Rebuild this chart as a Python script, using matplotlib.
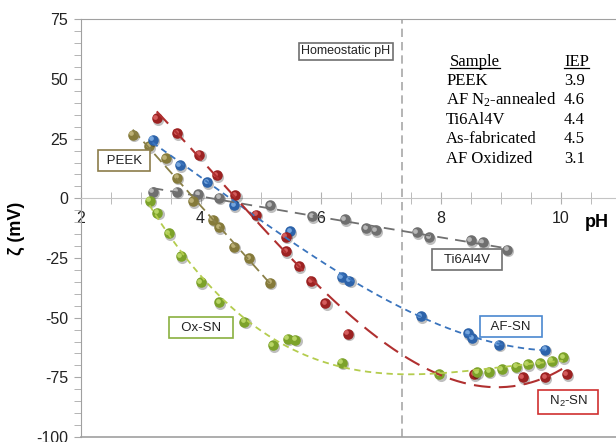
import numpy as np
import matplotlib.pyplot as plt
from matplotlib.ticker import MultipleLocator
from matplotlib.transforms import offset_copy
from matplotlib.lines import Line2D

plt.rcParams['font.family'] = ['Liberation Sans', 'DejaVu Sans']
plt.rcParams['axes.unicode_minus'] = False

# ----- values (pH, zeta potential in mV) -----
peek_ph = [2.87, 3.14, 3.42, 3.61, 3.87, 4.20, 4.31, 4.56, 4.81, 5.16]
peek_z = [26.6, 21.8, 16.8, 8.7, -1.3, -8.9, -12.2, -20.3, -25.0, -35.3]

ti_ph = [3.20, 3.60, 3.96, 4.31, 5.16, 5.86, 6.40, 6.76, 6.92, 7.60, 7.81, 8.50, 8.70, 9.11]
ti_z = [2.8, 2.8, 1.6, 0.2, -2.8, -7.6, -8.8, -12.6, -13.4, -14.3, -16.4, -17.5, -18.3, -21.5]

afsn_ph = [3.20, 3.65, 4.11, 4.56, 5.49, 6.35, 6.48, 7.67, 8.46, 8.53, 8.97, 9.74]
afsn_z = [24.6, 13.9, 6.7, -2.8, -13.9, -33.1, -34.5, -49.5, -56.6, -58.5, -61.3, -63.5]

n2sn_ph = [3.27, 3.61, 3.98, 4.27, 4.58, 4.93, 5.42, 5.43, 5.64, 5.84, 6.08, 6.45,
           8.56, 9.37, 9.74, 10.10]
n2sn_z = [33.5, 27.3, 18.2, 9.8, 1.3, -6.9, -16.1, -22.2, -28.4, -34.7, -44.0, -56.8,
          -73.6, -75.0, -75.0, -73.8]

oxsn_ph = [3.15, 3.28, 3.47, 3.67, 4.00, 4.31, 4.73, 5.20, 5.45, 5.58, 6.35, 7.98,
           8.61, 8.81, 9.02, 9.26, 9.45, 9.65, 9.85, 10.04]
oxsn_z = [-1.0, -6.0, -14.6, -24.2, -35.2, -43.4, -51.7, -61.6, -58.8, -59.3, -68.9, -73.6,
          -72.9, -72.6, -71.5, -70.5, -69.4, -69.1, -68.0, -66.6]

homeostatic_ph = 7.35

iep_samples = ['PEEK', 'AF N$\\mathregular{_2}$-annealed', 'Ti6Al4V', 'As-fabricated', 'AF Oxidized']
iep_values = ['3.9', '4.6', '4.4', '4.5', '3.1']

# ----- figure -----
fig = plt.figure(figsize=(6.16, 4.42), dpi=100)
ax = fig.add_axes([80.5/616, 5/442, 540/616, 417.7/442])
ax.set_xlim(2, 11)
ax.set_ylim(-100, 75)


def balls(x, y, base, light, z=3):
    shadow = offset_copy(ax.transData, fig, x=1.2, y=-1.6, units='dots')
    hi = offset_copy(ax.transData, fig, x=-1.4, y=1.4, units='dots')
    ax.plot(x, y, 'o', ms=8, mfc='#00000040', mec='none', ls='none', transform=shadow, zorder=z)
    ax.plot(x, y, 'o', ms=7.6, mfc=base, mec='none', ls='none', zorder=z)
    ax.plot(x, y, 'o', ms=3.4, mfc=light, mec='none', ls='none', alpha=0.75, transform=hi, zorder=z)


def trend(x, y, deg, color, dashes, lw=1.3):
    c = np.polyfit(x, y, deg)
    xs = np.linspace(min(x), max(x), 200)
    ax.plot(xs, np.polyval(c, xs), color=color, lw=lw, dashes=dashes, zorder=4)


ax.axvline(homeostatic_ph, color='#a8a8a8', lw=1.2, dashes=(5, 3), zorder=1)

balls(ti_ph, ti_z, '#6f6f6f', '#d0d0d0')
balls(peek_ph, peek_z, '#857a3a', '#cfc38a')
balls(afsn_ph, afsn_z, '#2d63aa', '#8fbdf0')
balls(n2sn_ph, n2sn_z, '#9c2222', '#e87070')
balls(oxsn_ph, oxsn_z, '#7ca22a', '#cde77a')

trend(ti_ph, ti_z, 2, '#707070', (6, 4))
trend(peek_ph, peek_z, 1, '#8a8048', (6, 3))
trend(afsn_ph, afsn_z, 3, '#3a74bd', (3.5, 2.5))
trend(n2sn_ph, n2sn_z, 3, '#b03030', (8, 4), lw=1.5)
trend(oxsn_ph, oxsn_z, 3, '#b4cc4e', (3.5, 2.5))

# ----- axes styling -----
for s in ['left', 'top']:
    ax.spines[s].set_color('#a0a0a0')
ax.spines['right'].set_visible(False)
ax.spines['bottom'].set_position(('data', 0))
ax.spines['bottom'].set_color('#c4c4c4')
ax.add_line(Line2D([0, 1], [0, 0], transform=ax.transAxes, color='#a0a0a0', lw=1.2, clip_on=False))

ax.xaxis.set_major_locator(MultipleLocator(2))
ax.xaxis.set_minor_locator(MultipleLocator(0.5))
ax.yaxis.set_major_locator(MultipleLocator(25))
ax.yaxis.set_minor_locator(MultipleLocator(5))
ax.tick_params(axis='x', which='both', direction='inout', length=8, color='#b0b0b0',
               labelsize=11.5, labelcolor='#222222', pad=5)
ax.tick_params(axis='y', which='both', direction='out', length=5, color='#a8a8a8',
               labelsize=11.5, labelcolor='#222222', pad=4)
ax.set_ylabel('ζ (mV)', fontsize=13, fontweight='bold')
ax.yaxis.set_label_coords(-0.103, 0.5)
ax.text(10.61, -10.3, 'pH', fontsize=13, fontweight='bold', ha='center', va='center')

# ----- boxed labels -----
def tag(x, y, s, ec, fs=9.5, pad=0.35):
    ax.text(x, y, s, fontsize=fs, ha='center', va='center', color='#222222', zorder=6,
            bbox=dict(boxstyle='square,pad=%s' % pad, fc='white', ec=ec, lw=1.2))

tag(2.725, 15.7, ' PEEK ', '#8c7d4a')
tag(4.008, -54.2, '  Ox-SN  ', '#8ab040')
tag(8.44, -25.7, '  Ti6Al4V  ', '#707070')
tag(9.175, -53.8, '  AF-SN  ', '#4a88d0')
tag(10.125, -85.2, '  N$\\mathregular{_2}$-SN  ', '#d03030')
tag(6.425, 61.7, 'Homeostatic pH', '#707070', fs=9, pad=0.2)

# ----- IEP table -----
serif = ['Liberation Serif', 'DejaVu Serif']
head_y = 55.5
row_y = [47.5, 39.4, 31.1, 23.0, 14.9]
h1 = ax.text(8.158, head_y, 'Sample', family=serif, fontsize=12, va='baseline')
h2 = ax.text(10.475, head_y, 'IEP', family=serif, fontsize=12, va='baseline', ha='right')
for name, val, yy in zip(iep_samples, iep_values, row_y):
    ax.text(8.092, yy, name, family=serif, fontsize=12, va='baseline')
    ax.text(10.408, yy, val, family=serif, fontsize=12, va='baseline', ha='right')

fig.canvas.draw()
r = fig.canvas.get_renderer()
base_px = ax.transData.transform((0, head_y))[1] - 2
for t in (h1, h2):
    bb = t.get_window_extent(r)
    fig.add_artist(Line2D([bb.x0, bb.x1], [base_px, base_px], transform=None, color='black', lw=0.9))

fig.savefig('out.png', dpi=100, facecolor='white')
